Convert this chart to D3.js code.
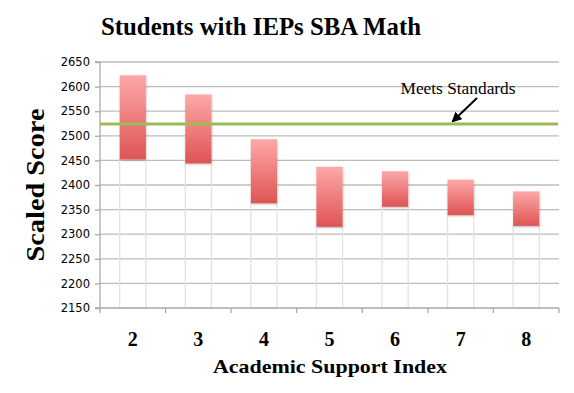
<!DOCTYPE html>
<html><head><meta charset="utf-8">
<script src="https://cdn.jsdelivr.net/npm/d3@7"></script>
<style>body{margin:0;background:#fff}svg{display:block}</style>
</head><body>
<svg id="c" width="574" height="393"></svg>
<script>
const categories = ["2","3","4","5","6","7","8"];
const lowValues  = [2452, 2444, 2363, 2315, 2356, 2339, 2317];
const highValues = [2623, 2584, 2493, 2437, 2428, 2411, 2387];
const meetsStandard = 2524;
const yTicks = [2150,2200,2250,2300,2350,2400,2450,2500,2550,2600,2650];

const svg = d3.select("#c");
const L = 100, R = 559, T = 62, B = 308;
const x = d3.scaleBand().domain(categories).range([L, R]).paddingInner(0.6).paddingOuter(0.3);
const xb = d3.scaleBand().domain(categories).range([L, R]);
const y = d3.scaleLinear().domain([2150, 2650]).range([B, T]);

const defs = svg.append("defs");
const g = defs.append("linearGradient").attr("id","rg").attr("x1",0).attr("y1",0).attr("x2",0).attr("y2",1);
g.append("stop").attr("offset","0%").attr("stop-color","#fda8a8");
g.append("stop").attr("offset","100%").attr("stop-color","#df5454");
const f = defs.append("filter").attr("id","sh").attr("x","-20%").attr("y","-20%").attr("width","140%").attr("height","140%");
f.append("feDropShadow").attr("dx",0.5).attr("dy",1).attr("stdDeviation",0.8).attr("flood-color","#000").attr("flood-opacity",0.25);

// gridlines
svg.append("g").selectAll("line").data(yTicks.slice(1)).join("line")
  .attr("x1", L).attr("x2", R).attr("y1", d => y(d)).attr("y2", d => y(d))
  .attr("stroke", "#bdbdbd").attr("stroke-width", 1.3);

// base (invisible) bars outline
svg.append("g").selectAll("rect").data(categories).join("rect")
  .attr("x", d => x(d)).attr("width", x.bandwidth())
  .attr("y", (d,i) => y(lowValues[i])).attr("height", (d,i) => y(2150) - y(lowValues[i]))
  .attr("fill", "none").attr("stroke", "#e2e2e2").attr("stroke-width", 1.3);

// red range bars
svg.append("g").selectAll("rect").data(categories).join("rect")
  .attr("x", d => x(d)).attr("width", x.bandwidth())
  .attr("y", (d,i) => y(highValues[i])).attr("height", (d,i) => y(lowValues[i]) - y(highValues[i]))
  .attr("fill", "url(#rg)").attr("filter","url(#sh)");

// y axis
const ya = svg.append("g").attr("transform", `translate(${L},0)`)
  .call(d3.axisLeft(y).tickValues(yTicks).tickSize(5).tickPadding(4).tickFormat(d3.format("d")));
ya.select(".domain").attr("stroke","#aaaaaa").attr("stroke-width",1.3).attr("d", `M-5,${T}H0V${B}H-5`);
ya.selectAll(".tick line").attr("stroke","#aaaaaa").attr("stroke-width",1.3);
ya.selectAll(".tick text").attr("font-family","'DejaVu Sans', sans-serif").attr("font-size",11.5).attr("fill","#000").attr("dx",-1);

// x axis
const xa = svg.append("g").attr("transform", `translate(0,${B})`)
  .call(d3.axisBottom(x).tickSize(0).tickPadding(24));
xa.select(".domain").attr("stroke","#aaaaaa").attr("stroke-width",1.3).attr("d", `M${L},0H${R}`);
xa.selectAll(".tick text").attr("font-family","'Liberation Serif', serif").attr("font-weight","bold").attr("font-size",20).attr("fill","#000");
svg.append("g").selectAll("line").data(categories.concat(["end"])).join("line")
  .attr("x1", d => d === "end" ? R : xb(d)).attr("x2", d => d === "end" ? R : xb(d))
  .attr("y1", B).attr("y2", B + 5).attr("stroke","#aaaaaa").attr("stroke-width",1.3);

// meets standards line
svg.append("line").attr("x1", L).attr("x2", R - 1).attr("y1", y(meetsStandard)).attr("y2", y(meetsStandard))
  .attr("stroke", "#9bbb59").attr("stroke-width", 3.2);

// annotation
svg.append("text").attr("x", 458).attr("y", 94).attr("text-anchor","middle")
  .attr("font-family","'Liberation Serif', serif").attr("font-size",17).attr("fill","#000")
  .attr("textLength", 115).attr("lengthAdjust","spacingAndGlyphs").text("Meets Standards");
defs.append("marker").attr("id","ah").attr("viewBox","0 0 10 10").attr("refX",8).attr("refY",5)
  .attr("markerWidth",5).attr("markerHeight",5).attr("orient","auto")
  .append("path").attr("d","M0,0L10,5L0,10z").attr("fill","#000");
svg.append("line").attr("x1", 477).attr("y1", 98).attr("x2", 453).attr("y2", 121)
  .attr("stroke","#000").attr("stroke-width",2).attr("marker-end","url(#ah)");

// titles
svg.append("text").attr("x", 261).attr("y", 35).attr("text-anchor","middle")
  .attr("font-family","'Liberation Serif', serif").attr("font-weight","bold").attr("font-size",26)
  .attr("textLength", 320).attr("lengthAdjust","spacingAndGlyphs").text("Students with IEPs SBA Math");
svg.append("text").attr("transform","translate(44,185) rotate(-90)").attr("text-anchor","middle")
  .attr("font-family","'Liberation Serif', serif").attr("font-weight","bold").attr("font-size",25)
  .attr("textLength", 153).attr("lengthAdjust","spacingAndGlyphs").text("Scaled Score");
svg.append("text").attr("x", 330).attr("y", 373).attr("text-anchor","middle")
  .attr("font-family","'Liberation Serif', serif").attr("font-weight","bold").attr("font-size",19.5)
  .attr("textLength", 234).attr("lengthAdjust","spacingAndGlyphs").text("Academic Support Index");
</script>
</body></html>
